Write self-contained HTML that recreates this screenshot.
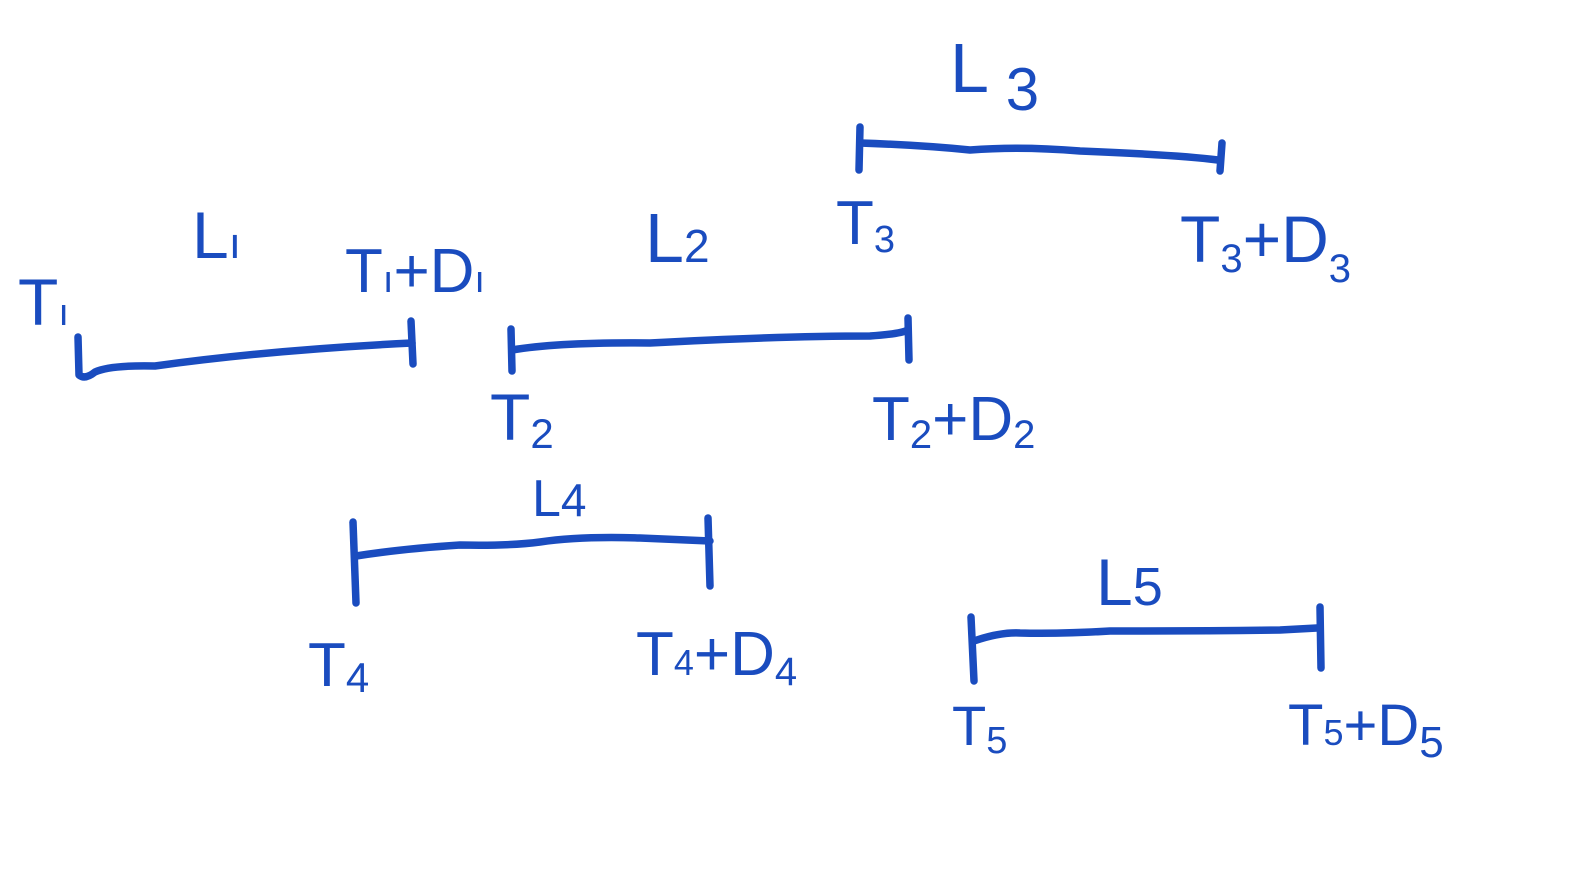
<!DOCTYPE html>
<html><head><meta charset="utf-8"><style>
html,body{margin:0;padding:0;background:#fff;}
svg{display:block}
text{font-family:"Liberation Sans",sans-serif;fill:#1a4cbf;}
</style></head><body>
<svg width="1580" height="893" viewBox="0 0 1580 893" xmlns="http://www.w3.org/2000/svg">
<g fill="none" stroke="#1a4cbf" stroke-width="7.5" stroke-linecap="round" stroke-linejoin="round">
<path d="M78 337 L79 375 Q85 380 95 372 Q110 365 155 366 Q270 350 412 343"/>
<path d="M411 321 L413 364"/>
<path d="M511 329 L512 371"/>
<path d="M512 350 Q560 342 650 343 Q780 336 870 336 Q900 334 908 330"/>
<path d="M908 318 L909 360"/>
<path d="M860 127 L859 170"/>
<path d="M860 143 Q920 145 970 150 Q1020 146 1080 151 Q1180 155 1218 160"/>
<path d="M1222 143 L1220 171"/>
<path d="M353 522 L356 603"/>
<path d="M356 556 Q400 549 460 545 Q510 546 540 542 Q580 536 640 538 L710 541"/>
<path d="M708 518 L710 586"/>
<path d="M971 617 L974 681"/>
<path d="M974 641 Q1000 632 1020 633 Q1060 634 1110 631 Q1200 631 1280 630 L1317 628"/>
<path d="M1320 607 L1321 668"/>
</g>
<text x="18" y="325" font-size="66">T<tspan font-size="38" dy="0">ı</tspan></text>
<text x="192" y="258" font-size="66">L<tspan font-size="44">ı</tspan></text>
<text x="345" y="292" font-size="62">T<tspan font-size="38">ı</tspan>+D<tspan font-size="38">ı</tspan></text>
<text x="490" y="440" font-size="66">T<tspan font-size="42" dy="8">2</tspan></text>
<text x="645" y="262" font-size="70">L<tspan font-size="46">2</tspan></text>
<text x="872" y="440" font-size="62">T<tspan font-size="40" dy="8">2</tspan><tspan dy="-8">+D</tspan><tspan font-size="40" dy="8">2</tspan></text>
<text x="950" y="92" font-size="70">L <tspan font-size="60" dy="18">3</tspan></text>
<text x="836" y="244" font-size="62">T<tspan font-size="38" dy="8">3</tspan></text>
<text x="1180" y="262" font-size="66">T<tspan font-size="40" dy="10">3</tspan><tspan dy="-10">+D</tspan><tspan font-size="40" dy="20">3</tspan></text>
<text x="532" y="516" font-size="52">L<tspan font-size="46">4</tspan></text>
<text x="308" y="686" font-size="62">T<tspan font-size="42" dy="6">4</tspan></text>
<text x="636" y="675" font-size="62">T<tspan font-size="36">4</tspan>+D<tspan font-size="40" dy="10">4</tspan></text>
<text x="1096" y="605" font-size="66">L<tspan font-size="54">5</tspan></text>
<text x="952" y="745" font-size="56">T<tspan font-size="38" dy="8">5</tspan></text>
<text x="1288" y="745" font-size="58">T<tspan font-size="36">5</tspan>+D<tspan font-size="44" dy="12">5</tspan></text>
</svg>
</body></html>
